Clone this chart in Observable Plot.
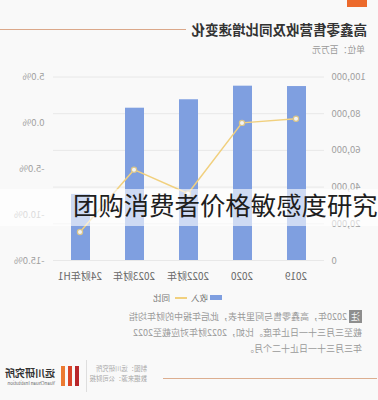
<!DOCTYPE html>
<html>
<head>
<meta charset="utf-8">
<script src="https://cdn.jsdelivr.net/npm/d3@7"></script>
<script src="https://cdn.jsdelivr.net/npm/@observablehq/plot@0.6"></script>
<style>
  html, body { margin: 0; padding: 0; background: #f9f9f9; }
  body { width: 378px; height: 400px; overflow: hidden; position: relative; font-family: "Noto Sans CJK SC", "Noto Sans", sans-serif; }
  #page { position: absolute; left: 0; top: 0; width: 378px; height: 400px; transform: scaleX(-1); transform-origin: 189px 200px; }
  .abs { position: absolute; white-space: nowrap; }
  #chart { position: absolute; left: 0; top: 60px; }
  #overlay { position: absolute; left: 0; top: 189px; width: 378px; height: 37px; background: rgba(255,255,255,0.62); }
  #wm { position: absolute; left: 73px; top: 192px; font-size: 25.4px; line-height: 1; color: #1e1e1e; white-space: nowrap; font-family: "Noto Sans CJK SC", sans-serif; }
</style>
</head>
<body>
<div id="page">
  <div class="abs" style="left:11px;top:0;width:20px;height:7px;background:#ec6a2c;"></div>
  <div class="abs" style="left:11px;top:20px;font-size:13.5px;line-height:18px;font-weight:700;color:#333;">高鑫零售营收及同比增速变化</div>
  <div class="abs" style="left:192px;top:29px;width:186px;height:1px;background:#dba88a;"></div>
  <div class="abs" style="left:13px;top:44px;font-size:8.8px;line-height:12px;color:#9a9a9a;">单位：百万元</div>
  <div id="chart"></div>
  <div id="legend"></div>
  <div class="abs" style="left:16px;top:309px;font-size:9px;line-height:16px;color:#9a9a9a;">
    <span style="background:#8e8e8e;color:#f4f4f4;padding:0 2px;">注</span> 2020年，高鑫零售与阿里并表，此后年报中的财年均指<br>截至三月三十一日止年度。比如，2022财年对应截至2022<br>年三月三十一日止十二个月。
  </div>
  <div class="abs" style="left:1px;top:378px;width:214px;height:1px;background:#dcae90;"></div>
  <div class="abs" style="left:231px;top:364px;font-size:6.4px;line-height:10px;color:#a8a8a8;">制图：远川研究所<br>数据来源：公司财报</div>
  <div class="abs" style="left:291px;top:360px;width:1px;height:32px;background:#dedede;"></div>
  <div class="abs" style="left:299px;top:366px;width:4px;height:20px;background:#b8262b;"></div>
  <div class="abs" style="left:306px;top:366px;width:4px;height:20px;background:#d8452a;"></div>
  <div class="abs" style="left:313px;top:366px;width:4px;height:20px;background:#ec7a32;"></div>
  <div class="abs" style="left:323px;top:366px;font-size:10px;line-height:13px;font-weight:700;color:#333;">远川研究所</div>
  <div class="abs" style="left:323px;top:380px;font-size:4.6px;line-height:6px;color:#666;">YuanChuan Institution</div>
</div>
<div id="overlay"></div>
<div id="wm">团购消费者价格敏感度研究</div>
<script>
const categories = ["2019", "2020", "2022财年", "2023财年", "24财年H1"];
const revenue = [94800, 95000, 87600, 83000, 36000];
const yoyPct = [0.45, 0.0, -7.7, -5.1, -11.9];
const revenueTicks = [0, 20000, 40000, 60000, 80000, 100000];
const pctTicks = [-15, -10, -5, 0, 5];
const legendLabels = ["收入", "同比"];

const pctMin = -15, pctMax = 5, revMax = 100000;
const toLeft = p => (p - pctMin) / (pctMax - pctMin) * revMax;
const fromLeft = v => v / revMax * (pctMax - pctMin) + pctMin;

const data = categories.map((c, i) => ({cat: c, rev: revenue[i], yoy: yoyPct[i]}));

const barColor = "#7f9fe0";
const lineColor = "#f1d07e";

const chart = Plot.plot({
  width: 378,
  height: 235,
  marginTop: 16.5,
  marginBottom: 35,
  marginLeft: 54,
  marginRight: 53,
  style: {background: "transparent", fontFamily: "'Noto Sans CJK SC', sans-serif", overflow: "visible"},
  x: {domain: categories, paddingInner: 0.65, paddingOuter: 0.325, label: null},
  y: {domain: [0, revMax], label: null},
  marks: [
    Plot.gridY(revenueTicks, {stroke: "#e8e8e8", strokeOpacity: 1}),
    Plot.barY(data, {x: "cat", y: "rev", fill: barColor}),
    Plot.lineY(data, {x: "cat", y: d => toLeft(d.yoy), stroke: lineColor, strokeWidth: 1.5}),
    Plot.dot(data, {x: "cat", y: d => toLeft(d.yoy), r: 2.6, fill: "#f4f4f4", stroke: "#d9c48a", strokeWidth: 1.2}),
    Plot.axisY(revenueTicks, {anchor: "left", tickSize: 0, tickPadding: 8, tickFormat: d3.format(","), fontSize: 9.5, color: "#a0a0a0"}),
    Plot.axisY(pctTicks.map(toLeft), {anchor: "right", tickSize: 0, tickPadding: 8, tickFormat: v => fromLeft(v).toFixed(1) + "%", fontSize: 9.5, color: "#a0a0a0"}),
    Plot.axisX({tickSize: 0, tickPadding: 12, fontSize: 10, color: "#666"})
  ]
});
document.getElementById("chart").appendChild(chart);

const legend = document.getElementById("legend");
legend.innerHTML =
  `<div class="abs" style="left:156px;top:295px;width:12px;height:5px;background:${barColor};"></div>` +
  `<div class="abs" style="left:170px;top:291px;font-size:8.5px;line-height:12px;color:#777;">${legendLabels[0]}</div>` +
  `<div class="abs" style="left:191px;top:297px;width:12px;height:1.5px;background:${lineColor};"></div>` +
  `<div class="abs" style="left:208px;top:291px;font-size:8.5px;line-height:12px;color:#777;">${legendLabels[1]}</div>`;
</script>
</body>
</html>
